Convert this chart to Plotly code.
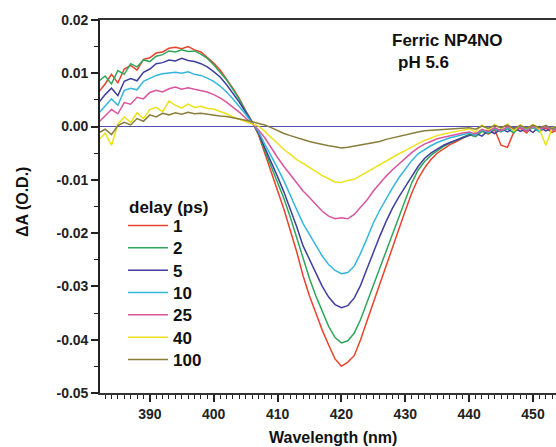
import plotly.graph_objects as go

# ---- data (in milli-O.D.; converted to O.D. below) ----
wavelength_nm = list(range(382, 455))

delay_labels = ["1", "2", "5", "10", "25", "40", "100"]
colors = ["#e8432d", "#2fa65c", "#3f3f9e", "#34b6dc", "#d9549e", "#ece21c", "#8a7d3a"]

dA_1ps = [6.5, 8.0, 9.8, 8.2, 10.8, 11.5, 10.6, 12.6, 12.9, 13.8, 14.0, 14.7, 14.9, 14.6, 15.0, 14.4,
          14.0, 13.0, 11.9, 10.6, 9.0, 7.2, 5.3, 3.0, 1.0, -1.5, -5.0, -8.5, -12.0, -15.5, -19.5, -23.5,
          -28.0, -31.8, -35.0, -38.2, -41.0, -43.6, -45.0, -44.2, -43.0, -40.0, -36.5, -33.0, -29.5,
          -26.3, -22.8, -19.3, -15.8, -12.5, -9.8, -7.8, -6.2, -5.0, -4.2, -3.4, -2.8, -2.2, -1.5, -1.8,
          -0.8, -1.4, -0.6, -3.5, -3.9, -1.0, -0.3, -1.2, 0.2, -0.9, -0.3, -1.1, -0.5]
dA_2ps = [8.5, 9.5, 8.0, 10.5, 9.8, 11.8, 11.2, 12.5, 12.2, 13.2, 13.5, 14.2, 14.0, 14.4, 14.1, 14.2,
          13.6, 12.8, 11.6, 10.3, 8.8, 7.0, 5.1, 2.9, 0.9, -1.3, -4.5, -7.5, -10.5, -13.5, -17.0, -20.8,
          -25.0, -28.5, -31.8, -34.8, -37.5, -39.6, -40.6, -40.2, -38.8, -36.2, -33.0, -29.6, -26.4,
          -23.3, -20.0, -16.6, -13.4, -10.6, -8.2, -6.6, -5.4, -4.5, -3.7, -3.1, -2.5, -2.0, -1.5, -1.9,
          -0.9, -1.3, -0.5, -1.0, -0.4, -1.2, 0.2, -0.8, -0.2, -1.0, 0.1, -0.7, -0.3]
dA_5ps = [4.5, 6.0, 7.2, 5.8, 8.5, 9.0, 8.6, 10.2, 10.8, 11.8, 12.0, 12.5, 12.3, 12.8, 12.4, 12.2,
          11.8, 11.2, 10.3, 9.3, 7.9, 6.3, 4.6, 2.7, 0.8, -1.1, -4.0, -6.6, -9.4, -12.3, -15.4, -18.8,
          -22.4, -25.0, -27.6, -30.0, -32.0, -33.4, -34.0, -33.6, -32.2, -29.8, -26.7, -23.6, -20.6,
          -17.8, -15.3, -13.2, -11.4, -9.4, -7.5, -6.0, -5.0, -4.2, -3.5, -3.0, -2.5, -2.1, -1.7, -1.2,
          -1.8, -0.7, -1.3, -0.4, -1.0, -0.2, -0.9, -0.4, -1.1, 0.0, -0.8, -0.3, -0.6]
dA_10ps = [2.5, 3.8, 5.2, 4.0, 6.8, 7.2, 6.9, 8.5, 9.0, 9.6, 9.9, 10.1, 10.2, 10.0, 10.3, 9.8,
           9.6, 9.1, 8.5, 7.6, 6.5, 5.2, 3.8, 2.3, 0.7, -0.9, -3.3, -5.5, -7.8, -10.2, -13.0, -15.6,
           -18.2, -20.2, -22.3, -24.3, -25.9, -27.0, -27.6, -27.4, -26.2, -23.8, -21.0, -18.1, -15.7,
           -13.5, -11.5, -9.6, -7.9, -6.4, -5.1, -4.3, -3.6, -3.0, -2.5, -2.1, -1.8, -1.5, -1.2, -1.6,
           -0.6, -1.1, -0.3, -0.9, -0.2, -0.8, 0.1, -0.6, -0.1, -0.9, 0.2, -0.5, -0.2]
dA_25ps = [0.8, 2.0, 3.2, 2.4, 4.5, 4.2, 5.5, 5.2, 6.4, 6.8, 6.5, 7.1, 7.4, 7.0, 7.3, 7.0,
           6.8, 6.5, 6.0, 5.4, 4.6, 3.7, 2.7, 1.6, 0.5, -0.6, -2.1, -4.0, -5.8, -7.5, -9.1, -10.7,
           -12.1, -13.3, -14.7, -15.9, -16.8, -17.3, -17.1, -17.3, -16.5, -15.2, -13.8, -12.1, -10.6,
           -9.3, -8.1, -7.0, -6.0, -4.9, -4.0, -3.3, -2.8, -2.3, -2.0, -1.7, -1.4, -1.2, -1.0, -1.4,
           -0.5, -0.9, -0.2, -0.8, 0.0, -0.6, -0.2, -0.9, 0.1, -0.5, -0.1, -0.7, -0.3]
dA_40ps = [-2.5, -1.2, -3.5, 0.5, 1.8, 0.8, 2.6, 1.5, 3.2, 3.6, 2.8, 4.8, 4.0, 3.5, 4.2, 3.6,
           3.8, 3.4, 3.3, 2.9, 2.4, 1.8, 1.4, 0.9, 0.5, 0.1, -0.9, -2.0, -3.2, -4.3, -5.2, -6.2,
           -6.9, -7.7, -8.4, -9.2, -9.8, -10.4, -10.5, -10.1, -9.9, -9.2, -8.6, -7.9, -7.2,
           -6.5, -5.8, -5.1, -4.5, -3.8, -3.2, -2.6, -2.1, -1.7, -1.4, -1.1, -0.9, -0.7, -0.4, -1.0,
           0.3, -0.6, 0.4, -0.4, 0.5, -0.8, 0.3, -0.4, 0.4, -0.5, -3.5, -0.3, 0.2]
dA_100ps = [-1.2, -0.5, -1.5, 0.2, 0.8, 0.3, 1.5, 1.0, 2.2, 1.8, 2.5, 2.2, 2.6, 2.3, 2.7, 2.4,
            2.5, 2.3, 2.2, 2.0, 1.9, 1.7, 1.5, 1.2, 0.9, 0.6, 0.3, -0.2, -0.8, -1.3, -1.7, -2.1,
            -2.5, -2.8, -3.1, -3.4, -3.6, -3.8, -4.0, -3.9, -3.7, -3.5, -3.3, -3.1, -2.8,
            -2.4, -2.1, -1.8, -1.5, -1.2, -1.0, -0.8, -0.7, -0.6, -0.5, -0.4, -0.3, -0.3, -0.2, -0.5,
            0.1, -0.3, 0.2, -0.2, 0.3, -0.4, 0.2, -0.3, 0.3, -0.2, 0.2, -0.4, 0.1]

series_mOD = [dA_1ps, dA_2ps, dA_5ps, dA_10ps, dA_25ps, dA_40ps, dA_100ps]

x_tick_vals = [390, 400, 410, 420, 430, 440, 450]
y_tick_vals = [0.02, 0.01, 0.0, -0.01, -0.02, -0.03, -0.04, -0.05]
y_tick_text = ["0.02", "0.01", "0.00", "-0.01", "-0.02", "-0.03", "-0.04", "-0.05"]

# ---- geometry helpers (pixel layout of the 556x447 figure) ----
W, H = 556, 447
ML, MR, MT, MB = 100, 0, 20, 54
PW, PH = W - ML - MR, H - MT - MB


def px(xp):
    return (xp - ML) / PW


def py(yp):
    return (H - MB - yp) / PH


FONT = "Liberation Sans, Arial, Helvetica, sans-serif"

fig = go.Figure()
legend_rows_px = [226, 248.3, 270.6, 293, 315.3, 337.6, 360]
for i, (lab, col, vals) in enumerate(zip(delay_labels, colors, series_mOD)):
    lname = "legend" if i == 0 else f"legend{i + 1}"
    fig.add_trace(go.Scatter(
        x=wavelength_nm, y=[v / 1000.0 for v in vals], mode="lines", name=lab,
        line=dict(color=col, width=1.5), legend=lname, showlegend=True,
    ))
    fig.layout[lname] = dict(
        x=px(123), y=py(legend_rows_px[i]), xanchor="left", yanchor="middle",
        bgcolor="rgba(0,0,0,0)", borderwidth=0, itemwidth=40,
        font=dict(family=FONT, size=17, color="#111", weight="bold"),
        itemclick=False, itemdoubleclick=False,
    )

fig.update_layout(
    template="none",
    width=W, height=H, margin=dict(l=ML, r=MR, t=MT, b=MB, autoexpand=False),
    paper_bgcolor="white", plot_bgcolor="white",
    font=dict(family=FONT, color="#111"),
    xaxis=dict(
        range=[382.2, 453.6], tickvals=x_tick_vals, ticks="outside", ticklen=7, tickwidth=1.5,
        tickcolor="#222", showgrid=False, zeroline=False, showline=True, linecolor="#333",
        linewidth=1.6, mirror=True, automargin=False,
        tickfont=dict(family=FONT, size=14, color="#222", weight="bold"),
        minor=dict(dtick=1, tick0=390, ticks="outside", ticklen=4, tickwidth=1, tickcolor="#222",
                   showgrid=False),
    ),
    yaxis=dict(
        range=[-0.05, 0.02], tickvals=y_tick_vals, ticktext=y_tick_text, ticks="outside",
        ticklen=7, tickwidth=1.5, tickcolor="#222", showgrid=False, showline=True,
        linecolor="#222", linewidth=1.6, zeroline=True, zerolinecolor="#5050b4", zerolinewidth=1.3,
        automargin=False,
        tickfont=dict(family=FONT, size=14, color="#222", weight="bold"),
        minor=dict(dtick=0.005, tick0=0, ticks="outside", ticklen=4, tickwidth=1, tickcolor="#222",
                   showgrid=False),
    ),
    showlegend=True,
)

ann_font = dict(family=FONT, size=17, color="#111", weight="bold")
fig.add_annotation(text="delay (ps)", xref="paper", yref="paper", x=px(127), y=py(207),
                   xanchor="left", yanchor="middle", showarrow=False, font=ann_font)
fig.add_annotation(text="Ferric NP4NO", xref="paper", yref="paper", x=px(390), y=py(40),
                   xanchor="left", yanchor="middle", showarrow=False, font=ann_font)
fig.add_annotation(text="pH 5.6", xref="paper", yref="paper", x=px(396), y=py(63),
                   xanchor="left", yanchor="middle", showarrow=False, font=ann_font)
fig.add_annotation(text="ΔA (O.D.)", xref="paper", yref="paper", x=px(22), y=py(202),
                   xanchor="center", yanchor="middle", textangle=-90, showarrow=False,
                   font=dict(family=FONT, size=16, color="#111", weight="bold"))
fig.add_annotation(text="Wavelength (nm)", xref="paper", yref="paper", x=px(333), y=py(437),
                   xanchor="center", yanchor="middle", showarrow=False,
                   font=dict(family=FONT, size=16, color="#111", weight="bold"))

# the page's default 8px body margin would shift the figure; remove it
fig.write_html("out.html", config={"displayModeBar": False},
               post_script="document.body.style.margin='0';document.body.style.overflow='hidden';")
